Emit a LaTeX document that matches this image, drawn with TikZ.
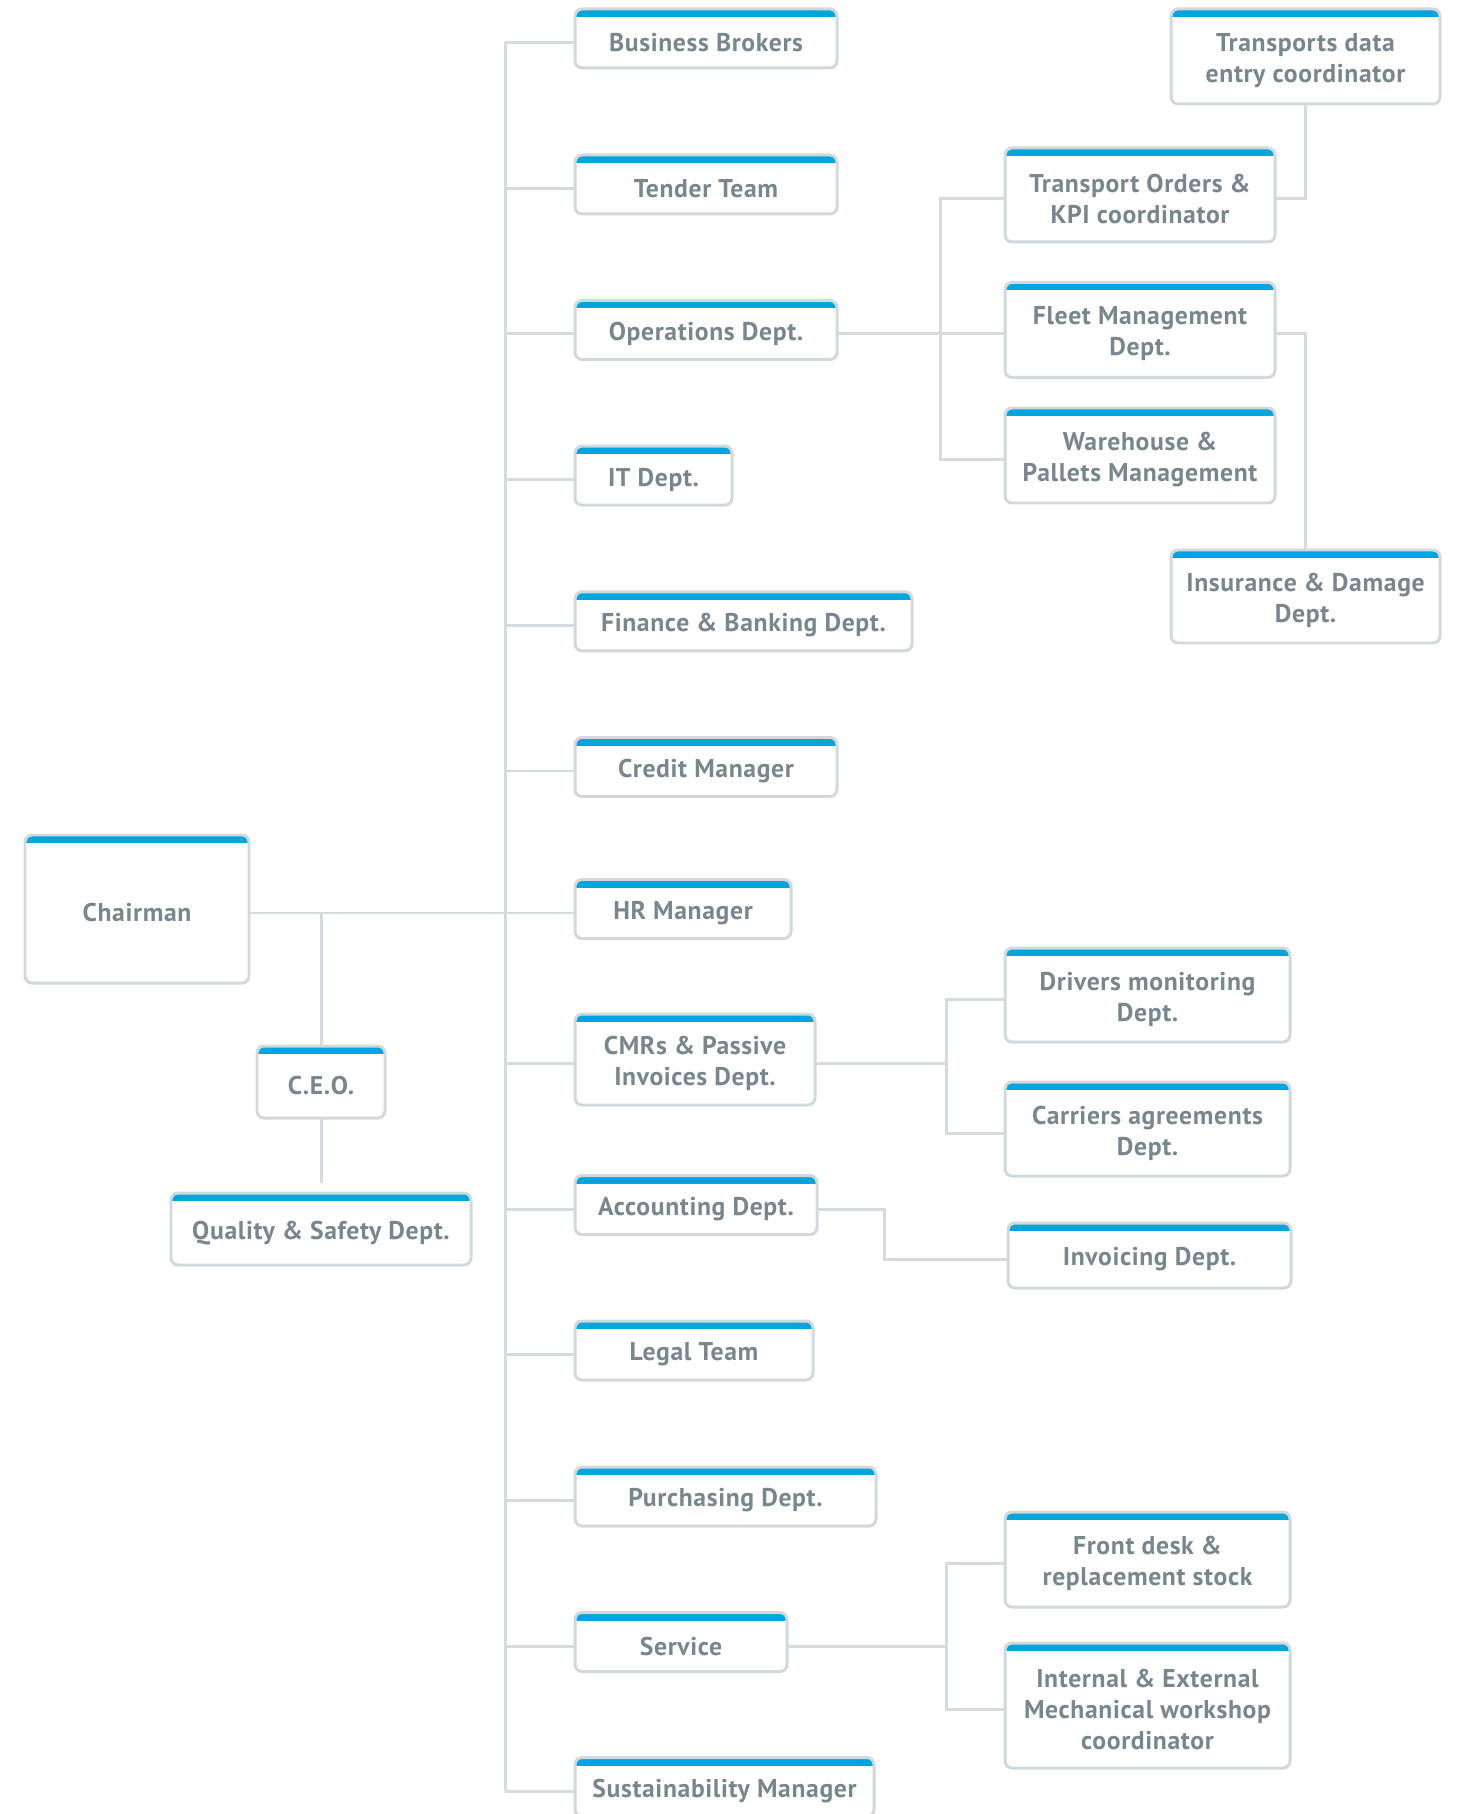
\documentclass[tikz,border=0pt]{standalone}
\usepackage{fontspec}
\setmainfont{PT Sans}[LetterSpace=2.5]
\usepackage{tikz}
\usetikzlibrary{calc,positioning,backgrounds}
\definecolor{barBlue}{RGB}{0,165,220}
\definecolor{boxGray}{RGB}{210,216,219}
\definecolor{linkGray}{RGB}{214,220,222}
\definecolor{textGray}{RGB}{120,134,142}

\begin{document}
\begin{tikzpicture}[y=-1cm,
  unit/.style={rectangle,outer sep=0pt,inner sep=2pt,minimum height=0.51cm,
               align=center,text=textGray,font=\bfseries\fontsize{7.3}{8.8}\selectfont,
               append after command={\pgfextra{\begin{pgfonlayer}{background}
                 \fill[white,rounded corners=2pt] ([yshift=0.08cm]\tikzlastnode.north west) rectangle (\tikzlastnode.south east);
                 \begin{scope}
                   \clip[rounded corners=2pt] ([yshift=0.08cm]\tikzlastnode.north west) rectangle (\tikzlastnode.south east);
                   \fill[barBlue] ([yshift=0.08cm]\tikzlastnode.north west) rectangle (\tikzlastnode.north east);
                 \end{scope}
                 \draw[boxGray,line width=0.85pt,rounded corners=2pt] ([yshift=0.08cm]\tikzlastnode.north west) rectangle (\tikzlastnode.south east);
               \end{pgfonlayer}}}},
  link/.style={draw=linkGray,line width=0.85pt}
]
  \useasboundingbox (0,0) rectangle (14.59,18.14);

  % top of the tree
  \node[unit,minimum width=2.24cm,minimum height=1.40cm](chair) at (1.37,9.13){Chairman};
  \node[unit,minimum width=1.28cm,minimum height=0.64cm](ceo)   at (3.21,10.86){C.E.O.};
  \node[unit,minimum width=3.00cm,minimum height=0.64cm](qsd)   at (3.21,12.33){Quality \& Safety Dept.};

  % departments under the chairman
  \node[unit,minimum width=2.62cm](bb)    at (7.06,0.425) {Business Brokers};
  \node[unit,minimum width=2.62cm](tt)    at (7.06,1.885) {Tender Team};
  \node[unit,minimum width=2.62cm](ops)   at (7.06,3.34)  {Operations Dept.};
  \node[unit,minimum width=1.57cm](itd)   at (6.535,4.796){IT Dept.};
  \node[unit,minimum width=3.37cm](fin)   at (7.435,6.253){Finance \& Banking Dept.};
  \node[unit,minimum width=2.62cm](crm)   at (7.06,7.71)  {Credit Manager};
  \node[unit,minimum width=2.16cm](hrm)   at (6.83,9.13)  {HR Manager};
  \node[unit,minimum width=2.40cm,minimum height=0.83cm](cmr) at (6.95,10.635){CMRs \& Passive\\Invoices Dept.};
  \node[unit,minimum width=2.42cm](acc)   at (6.96,12.09) {Accounting Dept.};
  \node[unit,minimum width=2.38cm](legal) at (6.94,13.545){Legal Team};
  \node[unit,minimum width=3.01cm](pur)   at (7.255,15.005){Purchasing Dept.};
  \node[unit,minimum width=2.12cm](srv)   at (6.81,16.46) {Service};
  \node[unit,minimum width=2.99cm](sus)   at (7.245,17.91){Sustainability Manager};

  % operations side
  \node[unit,minimum width=2.69cm,minimum height=0.87cm](ted) at (13.055,0.605){Transports data\\entry coordinator};
  \node[unit,minimum width=2.70cm,minimum height=0.86cm](tok) at (11.40,1.99) {Transport Orders \&\\KPI coordinator};
  \node[unit,minimum width=2.70cm,minimum height=0.87cm](fmd) at (11.40,3.34) {Fleet Management\\Dept.};
  \node[unit,minimum width=2.70cm,minimum height=0.87cm](wpm) at (11.40,4.595){Warehouse \&\\Pallets Management};
  \node[unit,minimum width=2.69cm,minimum height=0.85cm](ins) at (13.055,6.005){Insurance \& Damage\\Dept.};

  % cmr, accounting, service side
  \node[unit,minimum width=2.85cm,minimum height=0.86cm](drv) at (11.475,9.99) {Drivers monitoring\\Dept.};
  \node[unit,minimum width=2.85cm,minimum height=0.86cm](car) at (11.475,11.33){Carriers agreements\\Dept.};
  \node[unit,minimum width=2.83cm,minimum height=0.57cm](inv) at (11.495,12.595){Invoicing Dept.};
  \node[unit,minimum width=2.85cm,minimum height=0.87cm](fds) at (11.475,15.635){Front desk \&\\replacement stock};
  \node[unit,minimum width=2.85cm,minimum height=1.17cm](iem) at (11.475,17.095){Internal \& External\\Mechanical workshop\\coordinator};

  % junctions
  \coordinate (trunk) at (5.05,0);
  \coordinate (jops)  at (9.40,0);
  \coordinate (jcmr)  at (9.46,0);
  \coordinate (jsrv)  at (9.46,0);

  \draw[link] (bb.west -| trunk) -- (sus.west -| trunk);
  \foreach \n in {bb,tt,ops,itd,fin,crm,hrm,cmr,acc,legal,pur,srv,sus}
    \draw[link] (\n.west) -- (\n.west -| trunk);
  \draw[link] (chair.east) -- (chair.east -| trunk);
  \draw[link] (ceo.north |- chair.east) -- ([yshift=0.08cm]ceo.north);
  \draw[link,shorten >=0.18cm] (ceo.south) -- (qsd.north);

  \draw[link] (ops.east) -- (fmd.west);
  \draw[link] (tok.west) -| (jops |- wpm.west) -- (wpm.west);
  \draw[link] (tok.east) -| (ted.south);
  \draw[link] (fmd.east) -| ([yshift=0.08cm]ins.north);

  \draw[link] (cmr.east) -- (cmr.east -| jcmr);
  \draw[link] (drv.west) -| (jcmr |- car.west) -- (car.west);
  \draw[link] (acc.east) -- ++(0.67,0) |- (inv.west);
  \draw[link] (srv.east) -- (srv.east -| jsrv);
  \draw[link] (fds.west) -| (jsrv |- iem.west) -- (iem.west);
\end{tikzpicture}
\end{document}
